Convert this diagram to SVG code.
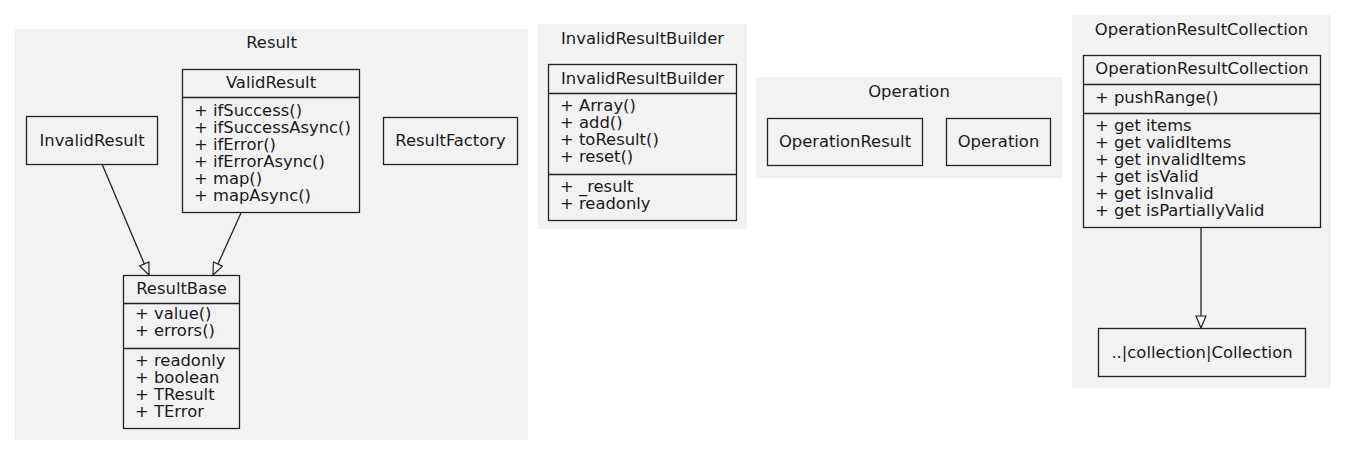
<svg xmlns="http://www.w3.org/2000/svg" width="1347" height="456" viewBox="0 0 1347 456">
<defs>
<marker id="tri" markerUnits="userSpaceOnUse" markerWidth="14" markerHeight="12" refX="13" refY="6" orient="auto">
<path d="M1,1 L13,6 L1,11 z" fill="#f2f2f2" stroke="#222" stroke-width="1.2"/>
</marker>
</defs>
<style>
text{font-family:"DejaVu Sans","Liberation Sans",sans-serif;font-size:16.4px;fill:#1a1a1a}
.c{text-anchor:middle}
.cl{fill:#f2f2f2;stroke:none}
.n{fill:none;stroke:#222;stroke-width:1.3}
.sep{stroke:#222;stroke-width:1.3}
.e{stroke:#222;stroke-width:1.3;fill:none;marker-end:url(#tri)}
</style>
<rect width="1347" height="456" fill="#fff"/>
<g id="cluster-Result">
<rect class="cl" x="15" y="29" width="513" height="411"/>
<text class="c" x="271.5" y="48">Result</text>
</g>
<g id="cluster-InvalidResultBuilder">
<rect class="cl" x="538" y="24" width="209" height="205"/>
<text class="c" x="642.5" y="44">InvalidResultBuilder</text>
</g>
<g id="cluster-Operation">
<rect class="cl" x="756" y="77" width="306" height="101"/>
<text class="c" x="909" y="97">Operation</text>
</g>
<g id="cluster-OperationResultCollection">
<rect class="cl" x="1072" y="15" width="259" height="373"/>
<text class="c" x="1201.5" y="35">OperationResultCollection</text>
</g>
<g id="connectors">
<line class="e" x1="102" y1="164" x2="149" y2="275"/>
<line class="e" x1="241" y1="213" x2="213" y2="275"/>
<line class="e" x1="1201" y1="228" x2="1201" y2="328"/>
</g>
<g id="InvalidResult">
<rect class="n" x="26.5" y="116.5" width="131" height="48"/>
<text class="c" x="92" y="146">InvalidResult</text>
</g>
<g id="ValidResult">
<rect class="n" x="182.5" y="69.5" width="177" height="143"/>
<line class="sep" x1="182.5" y1="97.5" x2="359.5" y2="97.5"/>
<text class="c" x="271" y="88">ValidResult</text>
<text x="194" y="116">+ ifSuccess()</text>
<text x="194" y="133">+ ifSuccessAsync()</text>
<text x="194" y="150">+ ifError()</text>
<text x="194" y="167">+ ifErrorAsync()</text>
<text x="194" y="184">+ map()</text>
<text x="194" y="201">+ mapAsync()</text>
</g>
<g id="ResultFactory">
<rect class="n" x="383.5" y="117.5" width="134" height="47"/>
<text class="c" x="450.5" y="146">ResultFactory</text>
</g>
<g id="ResultBase">
<rect class="n" x="123.5" y="275.5" width="116" height="153"/>
<line class="sep" x1="123.5" y1="303.5" x2="239.5" y2="303.5"/>
<line class="sep" x1="123.5" y1="348.5" x2="239.5" y2="348.5"/>
<text class="c" x="181.5" y="294">ResultBase</text>
<text x="135" y="319">+ value()</text>
<text x="135" y="336">+ errors()</text>
<text x="135" y="366">+ readonly</text>
<text x="135" y="383">+ boolean</text>
<text x="135" y="400">+ TResult</text>
<text x="135" y="417">+ TError</text>
</g>
<g id="InvalidResultBuilder">
<rect class="n" x="548.5" y="64.5" width="188" height="156"/>
<line class="sep" x1="548.5" y1="93.5" x2="736.5" y2="93.5"/>
<line class="sep" x1="548.5" y1="174.5" x2="736.5" y2="174.5"/>
<text class="c" x="642.5" y="84">InvalidResultBuilder</text>
<text x="560" y="111">+ Array()</text>
<text x="560" y="128">+ add()</text>
<text x="560" y="145">+ toResult()</text>
<text x="560" y="162">+ reset()</text>
<text x="560" y="192">+ _result</text>
<text x="560" y="209">+ readonly</text>
</g>
<g id="OperationResult">
<rect class="n" x="767.5" y="118.5" width="155" height="47"/>
<text class="c" x="845" y="147">OperationResult</text>
</g>
<g id="Operation">
<rect class="n" x="946.5" y="118.5" width="104" height="47"/>
<text class="c" x="998.5" y="147">Operation</text>
</g>
<g id="OperationResultCollection">
<rect class="n" x="1083.5" y="55.5" width="237" height="172"/>
<line class="sep" x1="1083.5" y1="84.5" x2="1320.5" y2="84.5"/>
<line class="sep" x1="1083.5" y1="113.5" x2="1320.5" y2="113.5"/>
<text class="c" x="1202" y="74">OperationResultCollection</text>
<text x="1095" y="103">+ pushRange()</text>
<text x="1095" y="131">+ get items</text>
<text x="1095" y="148">+ get validItems</text>
<text x="1095" y="165">+ get invalidItems</text>
<text x="1095" y="182">+ get isValid</text>
<text x="1095" y="199">+ get isInvalid</text>
<text x="1095" y="216">+ get isPartiallyValid</text>
</g>
<g id="Collection">
<rect class="n" x="1098.5" y="328.5" width="207" height="48"/>
<text class="c" x="1202" y="358">..|collection|Collection</text>
</g>
</svg>
